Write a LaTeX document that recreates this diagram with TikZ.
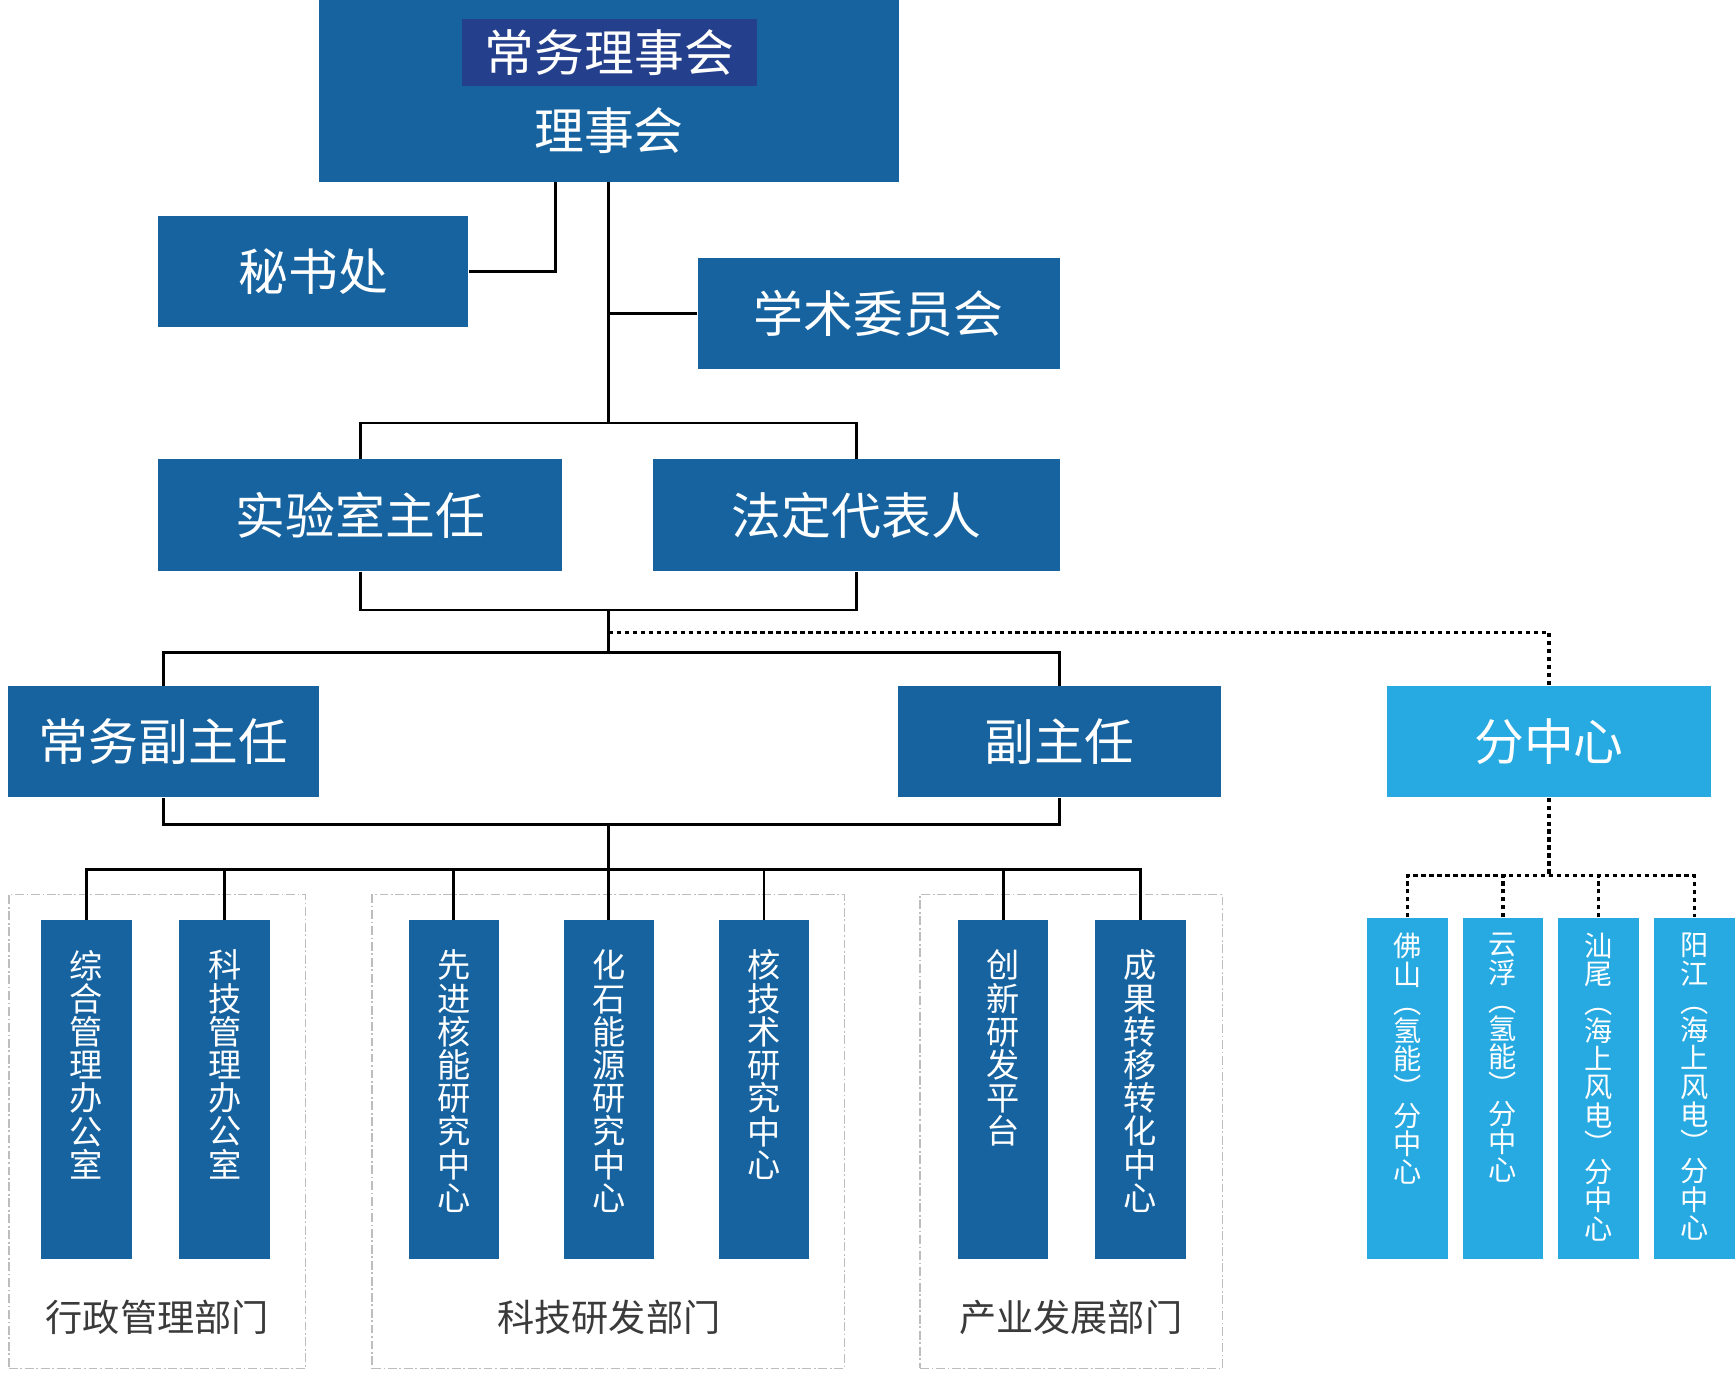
\documentclass[tikz,border=0pt]{standalone}
\usepackage{fontspec}
\newfontfamily\cjk{Noto Sans CJK SC}
\definecolor{dblue}{HTML}{16639F}
\definecolor{ddblue}{HTML}{243F8C}
\definecolor{lblue}{HTML}{27A9E1}
\definecolor{lblgray}{HTML}{3A3A3A}
\definecolor{grpgray}{HTML}{BDBDBD}
\begin{document}
\begin{tikzpicture}[x=0.5pt,y=-0.5pt,
  box/.style={fill=dblue, text=white, inner sep=0pt, font={\cjk\fontsize{22.5pt}{24pt}\selectfont}},
  lbox/.style={box, fill=lblue},
  colbox/.style={fill=dblue, inner sep=0pt, minimum width=41pt, minimum height=153pt},
  subbox/.style={fill=lblue, inner sep=0pt, minimum width=36.5pt, minimum height=154pt},
  vtext/.style={text=white, inner sep=0pt, align=center, anchor=north, font={\cjk\fontsize{15pt}{15pt}\selectfont\lineskiplimit=-20pt}},
  vstext/.style={vtext, font={\cjk\fontsize{12.75pt}{12.75pt}\selectfont\lineskiplimit=-20pt}},
  grp/.style={draw=grpgray, line width=0.6pt, dash pattern=on 4pt off 1.2pt on 0.8pt off 1.2pt, inner sep=0pt, minimum height=214pt},
  glabel/.style={text=lblgray, inner sep=0pt, font={\cjk\fontsize{16.8pt}{18pt}\selectfont}},
  conn/.style={line width=1.3pt, black},
  dotline/.style={line width=1.5pt, black, dash pattern=on 2pt off 1.6pt}
]
\fill[white] (0,0) rectangle (1568,1244);
\useasboundingbox (0,0) rectangle (1568,1244);

% group frames
\node[grp, minimum width=134pt] (g1) at (142,1022) {};
\node[grp, minimum width=213.5pt] (g2) at (549.5,1022) {};
\node[grp, minimum width=136.5pt] (g3) at (967.5,1022) {};
\node[glabel] (gl1) at (142,1190) {行政管理部门};
\node[glabel] (gl2) at (550,1190) {科技研发部门};
\node[glabel] (gl3) at (967,1190) {产业发展部门};

% top
\node[box, minimum width=262pt, minimum height=82pt] (top) at (550,82) {};
\node[box, fill=ddblue, minimum width=133.5pt, minimum height=30.5pt] (topin) at (550.5,47.5) {常务理事会};
\node[text=white, inner sep=0pt, font={\cjk\fontsize{22.5pt}{24pt}\selectfont}] (toptxt) at (550,118) {理事会};

\node[box, minimum width=140pt, minimum height=50pt] (sec) at (283,245) {秘书处};
\node[box, minimum width=163.5pt, minimum height=50pt] (acad) at (793.5,283) {学术委员会};
\node[box, minimum width=182.5pt, minimum height=50.5pt] (lab) at (325.5,465.5) {实验室主任};
\node[box, minimum width=183.5pt, minimum height=50.5pt] (legal) at (773.5,465.5) {法定代表人};
\node[box, minimum width=140.5pt, minimum height=50pt] (exec) at (147.5,670) {常务副主任};
\node[box, minimum width=146pt, minimum height=50pt] (vice) at (957,670) {副主任};
\node[lbox, minimum width=146pt, minimum height=50pt] (branch) at (1399,670) {分中心};

% columns
\node[colbox] (c1) at (78,984) {};
\node[colbox] (c2) at (203,984) {};
\node[colbox] (c3) at (410,984) {};
\node[colbox] (c4) at (550,984) {};
\node[colbox] (c5) at (690,984) {};
\node[colbox] (c6) at (906,984) {};
\node[colbox] (c7) at (1030,984) {};
\node[vtext] (t1) at ([yshift=-13.5pt]c1.north) {综\\合\\管\\理\\办\\公\\室};
\node[vtext] (t2) at ([yshift=-13.5pt]c2.north) {科\\技\\管\\理\\办\\公\\室};
\node[vtext] (t3) at ([yshift=-13.5pt]c3.north) {先\\进\\核\\能\\研\\究\\中\\心};
\node[vtext] (t4) at ([yshift=-13.5pt]c4.north) {化\\石\\能\\源\\研\\究\\中\\心};
\node[vtext] (t5) at ([yshift=-13.5pt]c5.north) {核\\技\\术\\研\\究\\中\\心};
\node[vtext] (t6) at ([yshift=-13.5pt]c6.north) {创\\新\\研\\发\\平\\台};
\node[vtext] (t7) at ([yshift=-13.5pt]c7.north) {成\\果\\转\\移\\转\\化\\中\\心};

% sub-centres
\node[subbox] (s1) at (1271,983) {};
\node[subbox] (s2) at (1357.5,983) {};
\node[subbox] (s3) at (1444,983) {};
\node[subbox] (s4) at (1530.5,983) {};
\node[vstext] (u1) at ([yshift=-7pt]s1.north) {佛\\山\\︵\\氢\\能\\︶\\分\\中\\心};
\node[vstext] (u2) at ([yshift=-7pt]s2.north) {云\\浮\\︵\\氢\\能\\︶\\分\\中\\心};
\node[vstext] (u3) at ([yshift=-7pt]s3.north) {汕\\尾\\︵\\海\\上\\风\\电\\︶\\分\\中\\心};
\node[vstext] (u4) at ([yshift=-7pt]s4.north) {阳\\江\\︵\\海\\上\\风\\电\\︶\\分\\中\\心};

% junctions
\coordinate (jA) at (550,382);
\coordinate (jB) at (550,551);
\coordinate (jC) at (550,589);
\coordinate (jD) at (550,571);
\coordinate (jE) at (550,745);
\coordinate (jF) at (550,785);
\coordinate (jG) at (1399,791);

% connectors
\draw[conn] ([xshift=-24pt]top.south) |- (sec.east);
\draw[conn] (top.south) -- (jA);
\draw[conn] (top.south |- acad.west) -- (acad.west);
\draw[conn] (lab.north) |- (jA) -| (legal.north);
\draw[conn] (lab.south) |- (jB) -| (legal.south);
\draw[conn] (jB) -- (jC);
\draw[dotline] (jD) -| (branch.north);
\draw[conn] (exec.north) |- (jC) -| (vice.north);
\draw[conn] (exec.south) |- (jE) -| (vice.south);
\draw[conn] (jE) -- (jF);
\draw[conn] (c1.north) |- (jF) -| (c7.north);
\draw[conn] (c2.north) -- (c2.north |- jF);
\draw[conn] (c3.north) -- (c3.north |- jF);
\draw[conn] (c4.north) -- (c4.north |- jF);
\draw[conn] (c5.north) -- (c5.north |- jF);
\draw[conn] (c6.north) -- (c6.north |- jF);
\draw[dotline] (branch.south) -- (jG);
\draw[dotline] (s1.north) |- (jG) -| (s4.north);
\draw[dotline] (s2.north) -- (s2.north |- jG);
\draw[dotline] (s3.north) -- (s3.north |- jG);
\end{tikzpicture}
\end{document}
